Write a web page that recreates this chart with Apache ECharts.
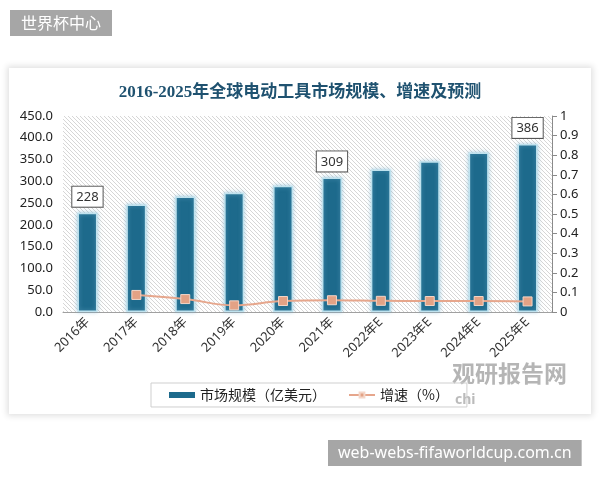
<!DOCTYPE html>
<html>
<head>
<meta charset="utf-8">
<script src="https://cdn.jsdelivr.net/npm/echarts@6/dist/echarts.min.js"></script>
<style>
html,body{margin:0;padding:0;background:#fff;}
#panel{position:absolute;left:9px;top:68px;width:582px;height:346px;background:#fff;box-shadow:0 0 6px 2px rgba(0,0,0,0.12);}
#chart{position:absolute;left:0;top:0;width:600px;height:480px;}
</style>
</head>
<body>
<div id="panel"></div>
<div id="chart"></div>
<script>
const categories = ['2016年','2017年','2018年','2019年','2020年','2021年','2022年E','2023年E','2024年E','2025年E'];
const marketSize = [228, 247, 265, 274, 290, 309, 327, 346, 366, 386];
const growthRate = [null, 0.087, 0.066, 0.034, 0.056, 0.060, 0.057, 0.056, 0.056, 0.054];
const labeledBars = [0, 5, 9];
const seriesNames = ['市场规模（亿美元）', '增速（%）'];
const titleText = '2016-2025年全球电动工具市场规模、增速及预测';

const tile = document.createElement('canvas');
tile.width = 4; tile.height = 4;
const tc = tile.getContext('2d');
tc.fillStyle = '#ffffff'; tc.fillRect(0,0,4,4);
tc.strokeStyle = '#d6d6d6'; tc.lineWidth = 1;
[-4,0,4].forEach(k => { tc.beginPath(); tc.moveTo(k,0); tc.lineTo(k+4,4); tc.stroke(); });

const chart = echarts.init(document.getElementById('chart'), null, {renderer:'canvas'});
const labelStyle = {
  show: true, position: 'top', distance: 6,
  backgroundColor: '#fff', borderColor: '#555', borderWidth: 1,
  padding: [4,4,3,4], color: '#333', fontSize: 13, fontFamily: 'Noto Sans'
};
chart.setOption({
  animation: false,
  backgroundColor: 'transparent',
  title: {
    text: titleText, left: 'center', top: 79,
    textStyle: {fontFamily: '"Liberation Serif", "Noto Sans CJK SC"', fontWeight: 'bold', fontSize: 17, color: '#1f5270'}
  },
  grid: {
    left: 63, right: 48, top: 116, bottom: 168, show: true,
    borderWidth: 0, backgroundColor: {image: tile, repeat: 'repeat'}
  },
  legend: {
    left: 151, top: 383, width: 297, height: 25,
    borderColor: '#cfcfcf', borderWidth: 1, padding: [5, 18, 5, 18], itemGap: 22,
    textStyle: {fontSize: 14, color: '#222', fontFamily: '"Noto Sans CJK SC"'},
    data: [
      {name: seriesNames[0], icon: 'rect', itemStyle: {borderWidth: 0, shadowBlur: 0}},
      {name: seriesNames[1]}
    ],
    itemWidth: 26, itemHeight: 6
  },
  xAxis: {
    type: 'category', data: categories,
    axisLine: {lineStyle: {color: '#a0a0a0'}},
    axisTick: {show: false},
    axisLabel: {rotate: 45, fontSize: 13, color: '#333', fontFamily: '"Noto Sans", "Noto Sans CJK SC"', margin: 8}
  },
  yAxis: [
    {
      type: 'value', min: 0, max: 450, interval: 50,
      axisLine: {show: false}, axisTick: {show: false}, splitLine: {show: false},
      axisLabel: {fontSize: 13, color: '#222', fontFamily: 'Noto Sans', formatter: v => v.toFixed(1), margin: 10}
    },
    {
      type: 'value', min: 0, max: 1, interval: 0.1, position: 'right',
      axisLine: {show: true, lineStyle: {color: '#8a8a8a'}},
      axisTick: {show: true, length: 5, lineStyle: {color: '#8a8a8a'}},
      splitLine: {show: false},
      axisLabel: {fontSize: 13, color: '#222', fontFamily: 'Noto Sans', formatter: v => String(Number(v.toFixed(1))), margin: 8}
    }
  ],
  series: [
    {
      name: seriesNames[0], type: 'bar', barWidth: 20,
      data: marketSize.map((v, i) => labeledBars.includes(i) ? {value: v, label: labelStyle} : v),
      label: {show: false},
      itemStyle: {color: '#1d6a8c', borderColor: '#bfe2ee', borderWidth: 1.5, shadowColor: 'rgba(120,180,210,0.6)', shadowBlur: 4}
    },
    {
      name: seriesNames[1], type: 'line', yAxisIndex: 1, smooth: 0.4,
      data: growthRate,
      symbol: 'rect', symbolSize: 9,
      lineStyle: {color: '#e6a68c', width: 2},
      itemStyle: {color: '#e3a285', borderColor: '#f4d6c8', borderWidth: 1}
    }
  ],
  graphic: [
    {type: 'text', left: 10, top: 10, style: {text: '世界杯中心', fill: '#fff', font: '16px "Noto Sans CJK SC"', backgroundColor: '#a6a6a6', padding: [5, 11, 5, 11]}},
    {type: 'text', left: 328, top: 440, style: {text: 'web-webs-fifaworldcup.com.cn', fill: '#fff', font: '16px "Noto Sans"', backgroundColor: '#a6a6a6', padding: [5, 10, 5, 10]}},
    {type: 'text', left: 452, top: 362, z: -1, style: {text: '观研报告网', fill: 'rgba(120,120,120,0.55)', font: 'bold 23px "Noto Sans CJK SC"'}},
    {type: 'text', left: 455, top: 393, z: -1, style: {text: 'chi', fill: 'rgba(120,120,120,0.5)', font: 'bold 14px "Noto Sans"'}}
  ]
});
</script>
</body>
</html>
